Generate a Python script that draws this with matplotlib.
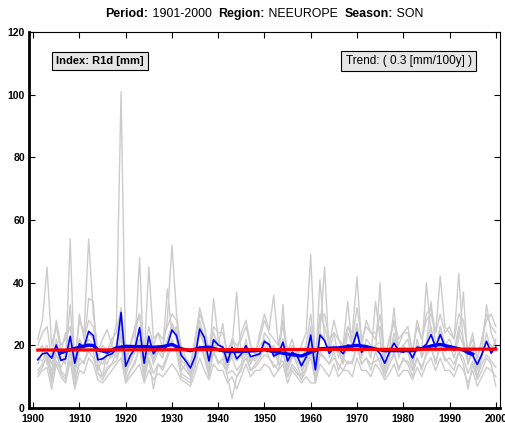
import numpy as np
import matplotlib
matplotlib.use("Agg")
import matplotlib.pyplot as plt

plt.rcParams["font.family"] = ["Liberation Sans", "DejaVu Sans"]

years = np.arange(1901, 2001)

# station series (grey lines), one row of ten values per decade
station_1 = [22, 28, 45, 20, 26, 18, 24, 19, 15, 28,
             24, 54, 30, 18, 22, 25, 20, 27, 101, 14,
             20, 26, 30, 17, 45, 22, 24, 19, 28, 52,
             30, 18, 15, 12, 22, 30, 26, 18, 24, 20,
             27, 15, 22, 18, 24, 28, 20, 17, 24, 30,
             25, 36, 20, 28, 18, 22, 16, 20, 24, 49,
             14, 30, 26, 20, 28, 22, 18, 26, 24, 42,
             20, 28, 24, 22, 30, 16, 22, 27, 20, 24,
             26, 18, 28, 22, 30, 32, 24, 42, 26, 24,
             22, 43, 20, 18, 24, 15, 22, 28, 30, 26]
station_2 = [18, 20, 14, 12, 22, 16, 14, 54, 10, 22,
             18, 22, 20, 14, 10, 18, 20, 16, 24, 10,
             16, 20, 48, 12, 18, 15, 20, 18, 38, 24,
             26, 14, 12, 10, 16, 24, 20, 14, 35, 22,
             18, 12, 20, 37, 16, 20, 14, 18, 16, 24,
             22, 16, 18, 20, 12, 18, 14, 10, 18, 22,
             10, 24, 45, 16, 20, 18, 14, 24, 20, 26,
             16, 22, 20, 18, 40, 12, 16, 24, 18, 20,
             22, 14, 20, 18, 40, 24, 18, 26, 20, 22,
             18, 26, 22, 14, 20, 12, 18, 33, 24, 20]
station_3 = [14, 18, 20, 10, 17, 13, 16, 33, 12, 18,
             20, 35, 34, 12, 16, 14, 18, 20, 26, 12,
             14, 18, 22, 10, 20, 14, 18, 16, 22, 26,
             22, 12, 14, 10, 18, 26, 20, 12, 22, 18,
             20, 14, 16, 12, 14, 22, 15, 16, 20, 22,
             18, 20, 14, 33, 12, 16, 18, 12, 14, 20,
             12, 41, 22, 18, 24, 16, 20, 34, 18, 26,
             18, 20, 16, 34, 22, 12, 18, 32, 16, 20,
             18, 12, 22, 16, 20, 34, 20, 24, 18, 20,
             16, 22, 37, 14, 18, 10, 16, 24, 18, 22]
station_4 = [12, 14, 16, 8, 20, 11, 9, 18, 7, 16,
             14, 20, 18, 11, 9, 12, 14, 18, 22, 8,
             12, 14, 20, 9, 16, 6, 14, 12, 16, 20,
             18, 10, 9, 8, 14, 20, 16, 10, 18, 14,
             16, 10, 3, 10, 12, 18, 12, 14, 16, 20,
             16, 14, 12, 18, 10, 14, 12, 9, 12, 18,
             8, 18, 16, 14, 18, 12, 16, 14, 15, 20,
             14, 16, 12, 18, 14, 10, 14, 18, 12, 16,
             14, 10, 16, 12, 18, 20, 14, 20, 16, 14,
             12, 18, 14, 6, 14, 9, 12, 16, 14, 7]
station_5 = [10, 12, 13, 6, 14, 10, 8, 15, 6, 12,
             11, 16, 14, 9, 8, 10, 12, 14, 16, 8,
             10, 12, 14, 8, 12, 9, 11, 10, 12, 14,
             12, 9, 8, 7, 11, 16, 12, 9, 14, 12,
             12, 8, 10, 6, 10, 14, 10, 12, 12, 14,
             13, 10, 12, 14, 8, 12, 10, 8, 10, 8,
             8, 14, 12, 10, 14, 10, 12, 12, 10, 16,
             12, 12, 10, 14, 12, 9, 11, 14, 10, 12,
             12, 9, 13, 10, 14, 16, 12, 16, 12, 12,
             10, 14, 12, 8, 12, 7, 10, 13, 12, 10]
station_6 = [20, 24, 26, 16, 28, 20, 22, 26, 14, 30,
             22, 28, 26, 16, 20, 18, 22, 24, 32, 16,
             20, 24, 30, 18, 26, 20, 24, 22, 26, 30,
             28, 20, 16, 14, 22, 32, 26, 18, 26, 24,
             24, 18, 22, 20, 22, 26, 20, 18, 22, 28,
             24, 22, 20, 26, 16, 20, 18, 14, 20, 30,
             16, 28, 30, 22, 24, 22, 20, 26, 22, 32,
             22, 26, 24, 24, 26, 16, 22, 28, 22, 24,
             24, 18, 26, 22, 28, 30, 24, 30, 24, 26,
             22, 30, 28, 18, 22, 16, 22, 30, 26, 24]
station_7 = [16, 15, 18, 14, 19, 15, 17, 20, 13, 22,
             19, 24, 22, 15, 14, 17, 16, 20, 28, 13,
             16, 19, 26, 13, 22, 16, 19, 17, 20, 27,
             24, 15, 14, 11, 18, 28, 22, 15, 20, 19,
             18, 13, 17, 15, 17, 20, 16, 15, 18, 21,
             20, 17, 16, 22, 14, 17, 15, 13, 16, 26,
             12, 24, 22, 17, 20, 18, 16, 20, 19, 27,
             17, 20, 19, 20, 21, 14, 17, 22, 18, 19,
             19, 15, 20, 17, 21, 26, 19, 26, 20, 19,
             18, 24, 20, 15, 17, 13, 18, 21, 20, 18]
station_8 = [11, 13, 17, 9, 15, 12, 10, 19, 9, 14,
             15, 18, 16, 11, 10, 13, 14, 15, 20, 9,
             12, 15, 19, 10, 16, 11, 14, 13, 17, 22,
             18, 11, 10, 9, 13, 20, 17, 11, 18, 15,
             14, 11, 12, 10, 13, 16, 12, 13, 15, 17,
             16, 13, 14, 15, 10, 13, 11, 10, 13, 16,
             9, 17, 16, 14, 16, 14, 12, 15, 14, 20,
             14, 16, 14, 15, 16, 11, 14, 17, 13, 15,
             15, 12, 16, 13, 17, 19, 15, 20, 15, 16,
             14, 18, 16, 11, 15, 10, 14, 17, 15, 13]
stations = [station_1, station_2, station_3, station_4,
            station_5, station_6, station_7, station_8]

# regional mean (thin blue)
region_mean = [15.4, 17.3, 17.6, 15.9, 20.1, 15.2, 15.7, 22.9, 14.3, 20.5,
               19.4, 24.5, 23.1, 15.4, 15.7, 16.8, 17.3, 18.9, 30.5, 13.3,
               16.8, 18.9, 25.6, 14.3, 22.9, 17.3, 19.2, 18.3, 19.9, 24.9,
               23.1, 16.8, 15.0, 12.8, 16.4, 25.2, 22.6, 15.0, 21.8, 20.1,
               19.4, 14.6, 19.4, 15.7, 17.3, 19.9, 16.4, 16.8, 17.3, 21.3,
               20.3, 16.6, 17.3, 21.0, 15.0, 17.8, 16.8, 13.5, 16.2, 23.3,
               12.2, 23.3, 21.5, 17.5, 19.2, 18.9, 17.3, 20.1, 19.6, 24.2,
               17.8, 19.6, 19.2, 18.9, 17.3, 14.3, 17.8, 20.7, 18.3, 17.8,
               18.8, 16.0, 19.4, 19.2, 20.3, 23.4, 19.4, 23.4, 19.6, 19.4,
               18.6, 18.9, 18.3, 17.3, 16.8, 13.9, 17.1, 21.3, 17.5, 19.4]

# smoothed regional mean (thick blue)
smooth_years = [1906, 1908, 1910, 1912, 1913, 1914, 1916, 1918, 1920, 1922,
                1924, 1926, 1928, 1930, 1932, 1934, 1936, 1938, 1940, 1942,
                1944, 1946, 1948, 1950, 1952, 1954, 1956, 1958, 1960, 1962,
                1964, 1966, 1968, 1970, 1972, 1974, 1976, 1978, 1980, 1982,
                1984, 1986, 1988, 1990, 1992, 1994, 1995]
smooth_vals = [17.6, 18.6, 19.4, 20.1, 19.9, 18.6, 17.8, 19.2, 19.7, 19.6,
               19.6, 19.4, 19.6, 20.3, 18.9, 18.3, 19.2, 19.4, 18.6, 18.0,
               18.0, 18.1, 18.3, 18.6, 18.0, 17.5, 17.0, 16.6, 17.8, 18.9,
               19.1, 19.2, 19.6, 20.0, 19.6, 18.8, 18.3, 18.3, 18.3, 18.3,
               18.9, 19.8, 20.3, 19.6, 18.9, 18.0, 17.2]

# linear trend (red)
trend_years = [1901, 2000]
trend_vals = [18.5, 18.8]

title_parts = [("Period:", "bold"), (" 1901-2000  ", "normal"),
               ("Region:", "bold"), (" NEEUROPE  ", "normal"),
               ("Season:", "bold"), (" SON", "normal")]

fig = plt.figure(figsize=(5.06, 4.23), dpi=100)
ax = fig.add_axes([0.0573, 0.0355, 0.9307, 0.8885])

for s in stations:
    ax.plot(years, s, color="#cccccc", lw=1.0, zorder=1)
ax.plot(years, region_mean, color="#0000ff", lw=1.2, zorder=2)
ax.plot(smooth_years, smooth_vals, color="#0000ff", lw=2.4, zorder=3)
ax.plot(trend_years, trend_vals, color="#ff0000", lw=2.3, zorder=4)

ax.set_xlim(1899.1, 2000.9)
ax.set_ylim(0, 120)
ax.set_xticks(np.arange(1900, 2001, 10))
ax.set_yticks(np.arange(0, 121, 20))
ax.tick_params(direction="in", length=4, width=0.8, top=True, right=True,
               labelsize=7.5)
ax.tick_params(axis="x", pad=4)
ax.tick_params(axis="y", pad=3)
for lab in ax.get_xticklabels() + ax.get_yticklabels():
    lab.set_fontweight("bold")
for side in ["left", "bottom"]:
    ax.spines[side].set_linewidth(2.0)
for side in ["top", "right"]:
    ax.spines[side].set_linewidth(0.8)

box = dict(boxstyle="square,pad=0.35", fc="#e6e6e6", ec="black", lw=0.8)
ax.text(1905.0, 110.7, "Index: R1d [mm]", fontsize=8, fontweight="bold",
        va="center", ha="left", bbox=box)
ax.text(1994.8, 110.7, "Trend: ( 0.3 [mm/100y] )", fontsize=8.5,
        va="center", ha="right", bbox=box)

# title: bold labels and normal values, laid out piece by piece
renderer = fig.canvas.get_renderer()
pieces = []
for txt, wt in title_parts:
    t = fig.text(0, 0.966, txt, fontsize=8.9, fontweight=wt, va="center")
    pieces.append(t)
widths = [p.get_window_extent(renderer).width for p in pieces]
x = 0.523 * fig.bbox.width - sum(widths) / 2
for p, w in zip(pieces, widths):
    p.set_x(x / fig.bbox.width)
    x += w

fig.savefig("out.png", dpi=100)
